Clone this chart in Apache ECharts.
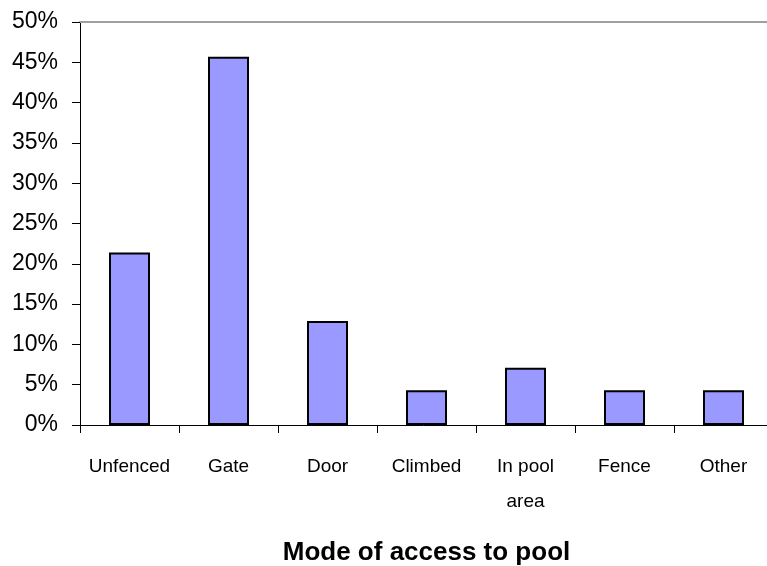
<!DOCTYPE html>
<html><head><meta charset="utf-8">
<script src="https://cdn.jsdelivr.net/npm/echarts@6/dist/echarts.min.js"></script>
<style>html,body{margin:0;padding:0;background:#fff}#c{width:767px;height:566px}</style>
</head><body><div id="c"></div>
<script>
var categories = ['Unfenced', 'Gate', 'Door', 'Climbed', 'In pool\narea', 'Fence', 'Other'];
var values = [21.4, 45.7, 12.9, 4.3, 7.1, 4.3, 4.3];
var yTicks = [0, 5, 10, 15, 20, 25, 30, 35, 40, 45, 50];

var chart = echarts.init(document.getElementById('c'));
chart.setOption({
  animation: false,
  grid: { left: 80, top: 22, width: 693, height: 403, containLabel: false, outerBoundsMode: 'none' },
  xAxis: [{
    type: 'category',
    data: categories,
    position: 'bottom',
    axisLine: { lineStyle: { color: '#000', width: 1 } },
    axisTick: { show: true, length: 8, alignWithLabel: false, lineStyle: { color: '#000' } },
    axisLabel: { fontFamily: 'Liberation Sans', fontSize: 19, color: '#000', margin: 24, lineHeight: 35, interval: 0 },
    name: 'Mode of access to pool',
    nameLocation: 'middle',
    nameGap: 115,
    nameTextStyle: { fontFamily: 'Liberation Sans', fontWeight: 'bold', fontSize: 26, color: '#000' }
  }, {
    type: 'category',
    data: categories,
    position: 'top',
    axisLine: { lineStyle: { color: '#a0a0a0', width: 2 } },
    axisTick: { show: false },
    axisLabel: { show: false }
  }],
  yAxis: {
    type: 'value',
    min: yTicks[0],
    max: yTicks[yTicks.length - 1],
    interval: 5,
    axisLine: { show: true, lineStyle: { color: '#000', width: 1 } },
    axisTick: { show: true, length: 8, lineStyle: { color: '#000' } },
    splitLine: { show: false },
    axisLabel: { fontFamily: 'Liberation Sans', fontSize: 23, color: '#000', margin: 22, formatter: '{value}%' }
  },
  series: [{
    type: 'bar',
    data: values,
    barWidth: 41,
    itemStyle: { color: '#9999ff', borderColor: '#000', borderWidth: 2 }
  }]
});
</script></body></html>
